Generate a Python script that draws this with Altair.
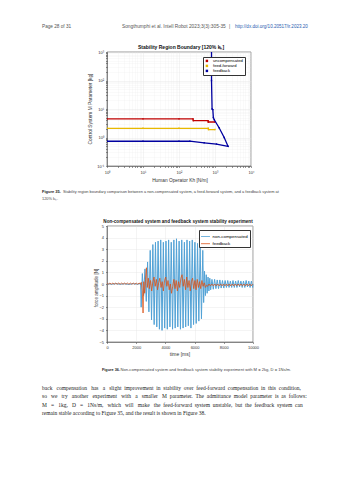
import altair as alt
import pandas as pd

SANS = "Liberation Sans"
SERIF = "Liberation Serif"

# ---------------- Figure 35 data (log-log stability boundaries) ----------------
unc_kh = [1, 10, 100, 245, 250, 640, 650, 1000]
unc_m = [4.5, 4.5, 4.5, 4.5, 3.9, 3.9, 3.5, 3.5]
ff_kh = [1, 10, 100, 650, 660, 1000]
ff_m = [2.1, 2.1, 2.1, 2.1, 1.9, 1.9]
fb_kh = [1, 10, 100, 200, 500, 1100, 2300, 1800, 1300, 955, 900, 870, 830, 800, 800]
fb_m = [0.74, 0.74, 0.74, 0.74, 0.65, 0.59, 0.49, 1.0, 2.2, 4.2, 5.0, 9.5, 10, 100, 2000]
series1 = ["uncompensated", "feed-forward", "feedback"]
colors1 = ["#c00000", "#e8b800", "#0000a0"]

x1_major = [1, 10, 100, 1000, 10000]
y1_major = [0.1, 1, 10, 100, 1000]
mult = [2, 3, 4, 5, 6, 7, 8, 9]
x1_ticks = sorted(x1_major + [round(d * m, 6) for d in x1_major[:-1] for m in mult])
y1_ticks = sorted(y1_major + [round(d * m, 6) for d in y1_major[:-1] for m in mult])

# ---------------- Figure 36 data (time series) ----------------
blue_t = [0, 300, 600, 900, 1200, 1500, 1800, 2100, 2300, 2340, 2420, 2510, 2600, 2690,
          2780, 2870, 2960, 3050, 3140, 3230, 3320, 3410, 3500, 3590, 3680, 3770, 3860,
          3950, 4040, 4130, 4220, 4310, 4400, 4490, 4580, 4670, 4760, 4850, 4940, 5030,
          5120, 5210, 5300, 5390, 5480, 5570, 5660, 5750, 5840, 5930, 6020, 6110, 6200,
          6290, 6380, 6470, 6560, 6620, 6680, 6740, 6800, 6860, 6920, 6980, 7040, 7100,
          7190, 7280, 7370, 7460, 7550, 7640, 7730, 7820, 7910, 8000, 8090, 8180, 8270,
          8360, 8450, 8540, 8630, 8720, 8810, 8900, 8990, 9080, 9170, 9260, 9350, 9440,
          9530, 9620, 9710, 9800, 9890, 9980, 10000]
blue_v = [0.03, -0.02, 0.03, -0.02, 0.02, -0.03, 0.03, -0.02, 0.05, -2.0, 0.9, -1.0, 1.3, -1.5,
          1.9, -2.4, 2.9, -3.1, 3.4, -3.5, 3.6, -3.7, 3.7, -3.9, 3.8, -4.0, 3.6,
          -3.8, 3.7, -3.9, 3.8, -3.7, 3.6, -3.9, 3.8, -3.8, 3.9, -3.7, 3.7, -3.9,
          3.8, -3.8, 3.6, -3.7, 3.8, -3.6, 3.7, -3.8, 3.8, -3.5, 3.6, -3.4, 3.5,
          -3.2, 3.3, -3.0, 2.9, -1.6, 1.1, -1.0, 0.8, -0.8, 0.6, -0.6, 0.5, -0.5,
          0.4, -0.45, 0.4, -0.4, 0.35, -0.4, 0.35, -0.35, 0.3, -0.35, 0.3, -0.3, 0.3,
          -0.3, 0.25, -0.3, 0.3, -0.3, 0.25, -0.3, 0.3, -0.25, 0.25, -0.3, 0.25, -0.3,
          0.3, -0.25, 0.25, -0.3, 0.25, -0.3, 0.0]

org_t = [0, 100, 200, 300, 400, 500, 600, 700, 800, 900, 1000, 1100, 1200, 1300, 1400,
         1500, 1600, 1700, 1800, 1900, 2000, 2100, 2200, 2300, 2350, 2420, 2470, 2520,
         2580, 2640, 2700, 2760, 2830, 2900, 2980, 3060, 3140, 3220, 3300, 3380, 3460,
         3540, 3620, 3700, 3780, 3860, 3940, 4020, 4100, 4180, 4260, 4340, 4420, 4500,
         4580, 4660, 4740, 4820, 4900, 4980, 5060, 5140, 5220, 5300, 5380, 5460, 5540,
         5620, 5700, 5780, 5860, 5940, 6020, 6100, 6180, 6260, 6340, 6420, 6500, 6580,
         6660, 6740, 6820, 6900, 6980, 7080, 7180, 7280, 7380, 7480, 7580, 7680, 7780,
         7880, 7980, 8080, 8180, 8280, 8380, 8480, 8580, 8680, 8780, 8880, 8980, 9080,
         9180, 9280, 9380, 9480, 9580, 9680, 9780, 9880, 9980]
org_v = [0.08, -0.02, 0.08, -0.02, 0.08, -0.02, 0.08, -0.02, 0.08, -0.02, 0.08, -0.02,
         0.08, -0.02, 0.08, -0.02, 0.08, -0.02, 0.08, -0.02, 0.08, -0.02, 0.08, -0.02,
         0.15, -0.6, -2.5, 0.2, -0.8, 0.4, 1.4, -0.3, 0.5, -0.4, 0.3, -0.6, 0.2, 0.6,
         -0.2, 0.4, -0.5, 0.1, 0.5, -0.3, 0.2, -0.6, 0.3, 0.6, -0.2, 0.3, -0.5, 0.0,
         -0.8, -0.2, 0.4, -0.4, 0.3, -0.6, 0.2, -0.3, 0.5, 0.8, -0.2, 0.4, -0.5, 0.6,
         -0.3, 0.3, -0.6, 0.2, 0.5, -0.4, 0.3, -0.5, 0.4, -0.3, 0.2, -0.4, 0.3, -0.2,
         0.1, -0.3, -0.1, -0.2, 0.0, -0.16, 0.0, -0.16, 0.0, -0.16, 0.0, -0.16, 0.0,
         -0.16, 0.0, -0.16, 0.0, -0.16, 0.0, -0.16, 0.0, -0.16, 0.0, -0.16, 0.0, -0.16,
         0.0, -0.16, 0.0, -0.16, 0.0, -0.16, 0.0, -0.16, 0.0]
series2 = ["non-compensated", "feedback"]
colors2 = ["#52a2d6", "#d95319"]
x2_ticks = [0, 2000, 4000, 6000, 8000, 10000]
y2_ticks = [-5, -4, -3, -2, -1, 0, 1, 2, 3, 4, 5]

# ---------------- page text ----------------
HEADER_LEFT = "Page 28 of 31"
HEADER_MID = "Songthumphi et al. Intell Robot 2023;3(3):305-35"
HEADER_LINK = "http://dx.doi.org/10.20517/ir.2023.20"
TITLE1 = "Stability Region Boundary [120% kₕ]"
XT1 = "Human Operator Kh [N/m]"
YT1 = "Control System M Parameter [kg]"
CAP35_A = "Figure 35."
CAP35_B = "Stability region boundary comparison between a non-compensated system, a feed-forward system, and a feedback system at"
CAP35_C = "120% kₕ."
TITLE2 = "Non-compensated system and feedback system stability experiment"
XT2 = "time [ms]"
YT2 = "force amplitude [N]"
CAP36_A = "Figure 36."
CAP36_B = "Non-compensated system and feedback system stability experiment with M = 2kg, D = 1Ns/m."
BODY = [
    "back compensation has a slight improvement in stability over feed-forward compensation in this condition,",
    "so we try another experiment with a smaller M parameter. The admittance model parameter is as follows:",
    "M = 1kg, D = 1Ns/m, which will make the feed-forward system unstable, but the feedback system can",
    "remain stable according to Figure 35, and the result is shown in Figure 38.",
]
BODY_EXTRA = [17, 24, 26, 0]  # extra non-breaking spaces used to justify each line


def justify(line, extra):
    words = line.split(" ")
    gaps = len(words) - 1
    if extra <= 0 or gaps <= 0:
        return line
    base, rem = divmod(extra, gaps)
    out = words[0]
    for i, w in enumerate(words[1:]):
        out += " " + "\u00a0" * (base + (1 if i < rem else 0)) + w
    return out


def txt(s, x, y, size, font=SANS, color="#333333", weight="normal", align="left",
        angle=0, baseline="middle"):
    kw = dict(font=font, fontSize=size, color=color, fontWeight=weight, align=align,
              baseline=baseline)
    if angle:
        kw["angle"] = angle
    return alt.Chart(pd.DataFrame({"t": [s]})).mark_text(**kw).encode(
        text="t:N", x=alt.value(x), y=alt.value(y))


# ---------------- chart 1 ----------------
rows = []
for name, ks, ms in [(series1[0], unc_kh, unc_m), (series1[1], ff_kh, ff_m), (series1[2], fb_kh, fb_m)]:
    for i, (k, m) in enumerate(zip(ks, ms)):
        rows.append({"series": name, "kh": k, "m": m, "o": i})
df1 = pd.DataFrame(rows)

sup = "datum.value == 1 ? '10⁰' : datum.value == 10 ? '10¹' : datum.value == 100 ? '10²' : datum.value == 1000 ? '10³' : datum.value == 10000 ? '10⁴' : datum.value == 0.1 ? '10⁻¹' : ''"
minor_dash = {"condition": {"test": "indexof([0.1,1,10,100,1000,10000], datum.value) < 0", "value": [1, 1]}, "value": []}

enc_x1 = alt.X("kh:Q", scale=alt.Scale(type="log", domain=[1, 10000]),
               axis=alt.Axis(values=x1_ticks, labelExpr=sup, title=None, labelOverlap=False,
                             labelFlush=False, gridDash=minor_dash, labelPadding=3))
enc_y1 = alt.Y("m:Q", scale=alt.Scale(type="log", domain=[0.1, 1000]),
               axis=alt.Axis(values=y1_ticks, labelExpr=sup, title=None, labelOverlap=False,
                             labelFlush=False, gridDash=minor_dash, labelPadding=2))
enc_c1 = alt.Color("series:N", scale=alt.Scale(domain=series1, range=colors1),
                   legend=alt.Legend(title=None, orient="none", legendX=96, legendY=5,
                                     fillColor="white", strokeColor="#333333",
                                     padding=1.8, labelFontSize=4.2, labelFont=SANS,
                                     symbolType="square", symbolSize=6, rowPadding=0,
                                     labelOffset=4, symbolStrokeWidth=0))

pts1 = alt.Chart(df1).mark_point(filled=True, shape="square", size=2, clip=True, opacity=1).encode(
    x=enc_x1, y=enc_y1, color=enc_c1)
lines1 = alt.Chart(df1).mark_line(strokeWidth=1.3, clip=True).encode(
    x=enc_x1, y=enc_y1, color=enc_c1, order="o:Q")

c1 = alt.layer(
    pts1,
    lines1,
    txt(HEADER_LEFT, -65, -25, 4.7, color="#555555"),
    txt(HEADER_MID, 15, -25, 4.8, color="#555555"),
    txt("|", 122, -25, 4.8, color="#555555"),
    txt(HEADER_LINK, 128, -25, 4.55, color="#2a5db0"),
    txt(TITLE1, 74, -5, 5.0, color="#111111", weight="bold", align="center"),
    txt(XT1, 73, 129, 4.8, align="center"),
    txt(YT1, -16, 57, 4.8, align="center", angle=270),
    txt(CAP35_A, -65, 140, 4.0, weight="bold", color="#222222"),
    txt(CAP35_B, -44, 140, 3.9, color="#444444"),
    txt(CAP35_C, -65, 146.5, 3.9, color="#444444"),
).properties(width=144, height=114)

# ---------------- chart 2 ----------------
dfb = pd.DataFrame({"series": series2[0], "t": blue_t, "v": blue_v, "o": range(len(blue_t))})
dfo = pd.DataFrame({"series": series2[1], "t": org_t, "v": org_v, "o": range(len(org_t))})

enc_x2 = alt.X("t:Q", scale=alt.Scale(domain=[0, 10000], nice=False),
               axis=alt.Axis(values=x2_ticks, format="d", title=None, labelFlush=False,
                             labelPadding=2))
enc_y2 = alt.Y("v:Q", scale=alt.Scale(domain=[-5, 5], nice=False),
               axis=alt.Axis(values=y2_ticks, format="d", title=None, labelFlush=False,
                             labelPadding=2))
enc_c2 = alt.Color("series:N", scale=alt.Scale(domain=series2, range=colors2),
                   legend=alt.Legend(title=None, orient="none", legendX=92, legendY=4,
                                     fillColor="white", strokeColor="#333333",
                                     padding=1.5, labelFontSize=4.4, labelFont=SANS,
                                     symbolType="stroke", symbolSize=80,
                                     symbolStrokeWidth=0.8, rowPadding=0.2,
                                     labelOffset=2))

blue_line = alt.Chart(dfb).mark_line(strokeWidth=1.0).encode(
    x=enc_x2, y=enc_y2, color=enc_c2, order="o:Q")
org_line = alt.Chart(dfo).mark_line(strokeWidth=0.8).encode(
    x=enc_x2, y=enc_y2, color=enc_c2, order="o:Q")

c2 = alt.layer(
    blue_line,
    org_line,
    txt(TITLE2, 71, -4, 4.6, color="#111111", weight="bold", align="center"),
    txt(XT2, 73, 128, 5.0, align="center"),
    txt(YT2, -10, 62, 4.6, align="center", angle=270),
    txt(CAP36_A, -5, 144, 3.8, weight="bold", color="#222222"),
    txt(CAP36_B, 13.5, 144, 4.1, color="#444444"),
    txt(justify(BODY[0], BODY_EXTRA[0]), -65, 162, 5.5, font=SERIF, color="#222222"),
    txt(justify(BODY[1], BODY_EXTRA[1]), -65, 170, 5.5, font=SERIF, color="#222222"),
    txt(justify(BODY[2], BODY_EXTRA[2]), -65, 178.5, 5.5, font=SERIF, color="#222222"),
    txt(justify(BODY[3], BODY_EXTRA[3]), -65, 187, 5.5, font=SERIF, color="#222222"),
).properties(width=146, height=116)

chart = alt.vconcat(c1, c2, spacing=60, bounds="flush").resolve_scale(
    color="independent", x="independent", y="independent"
).properties(
    autosize=alt.AutoSizeParams(type="none"),
    padding={"left": 107, "top": 52, "right": 246, "bottom": 428},
    background="white",
).configure_axis(
    labelFont=SANS, labelFontSize=4, labelColor="#333333", domainColor="#333333",
    domainWidth=0.5, tickColor="#333333", tickWidth=0.5, tickSize=1.5,
    gridColor="#e2e2e2", gridWidth=0.4,
).configure_view(stroke="#333333", strokeWidth=0.5)

chart.save("out.html", embed_options={"renderer": "svg", "actions": False})
